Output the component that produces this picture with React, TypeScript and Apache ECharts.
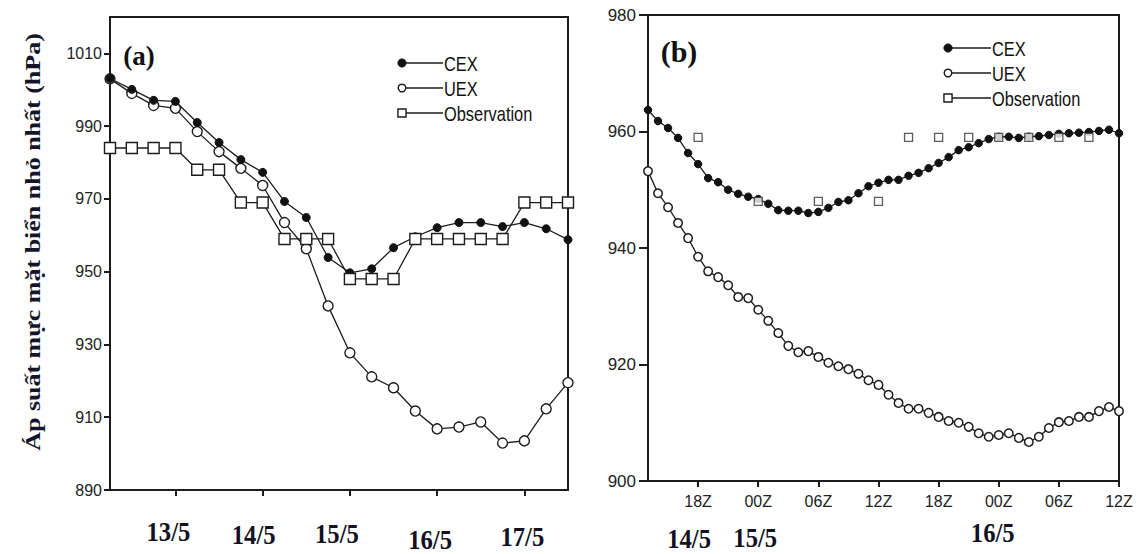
import React, { useEffect, useRef } from "react";
import * as echarts from "echarts";

// ---------- Panel (a): 6-hourly, index 0 = 12/5 06Z ----------
const cexA = [1003.1, 1000.1, 997.1, 996.8, 991.0, 985.5, 980.8, 977.3, 969.3, 964.9, 953.9, 949.7, 950.8, 956.6, 959.6, 962.1, 963.5, 963.5, 962.4, 963.5, 961.8, 958.8];
const uexA = [1003.0, 999.0, 995.7, 994.9, 988.5, 983.0, 978.4, 973.7, 963.5, 956.3, 940.6, 927.7, 921.1, 918.1, 911.7, 906.8, 907.3, 908.7, 902.9, 903.5, 912.3, 919.5];
const obsA = [984, 984, 984, 984, 978, 978, 969, 969, 959, 959, 959, 948, 948, 948, 959, 959, 959, 959, 959, 969, 969, 969];
const tickPosA = [3, 7, 11, 15, 19];
const dayLabelsA = ["13/5", "14/5", "15/5", "16/5", "17/5"];
const yTicksA = [890, 910, 930, 950, 970, 990, 1010];

// ---------- Panel (b): hourly, hours since 14/5 00Z ----------
const startHourB = 13;
const cexB = [963.7, 961.8, 960.6, 958.9, 956.3, 954.4, 952.0, 951.3, 950.0, 949.3, 948.8, 948.4, 947.6, 946.5, 946.4, 946.4, 946.0, 946.2, 946.9, 947.9, 948.2, 949.4, 950.6, 951.2, 951.7, 951.7, 952.4, 952.9, 953.7, 954.6, 955.6, 956.8, 957.3, 958.0, 958.7, 959.1, 959.1, 958.9, 959.1, 959.2, 959.4, 959.6, 959.7, 959.8, 959.9, 960.1, 960.3, 959.7];
const uexB = [953.2, 949.4, 947.0, 944.3, 941.7, 938.5, 936.0, 935.0, 933.6, 931.6, 931.4, 929.4, 927.5, 925.4, 923.2, 922.1, 922.3, 921.3, 920.3, 919.7, 919.2, 918.4, 917.3, 916.5, 914.8, 913.4, 912.4, 912.4, 911.7, 911.0, 910.3, 910.0, 909.3, 908.2, 907.6, 907.9, 908.2, 907.4, 906.7, 907.6, 909.1, 910.1, 910.3, 911.0, 911.0, 912.0, 912.7, 912.0];
const obsHoursB = [18, 24, 30, 36, 39, 42, 45, 48, 51, 54, 57];
const obsB = [959, 948, 948, 948, 959, 959, 959, 959, 959, 959, 959];
const tickPosB = [18, 24, 30, 36, 42, 48, 54, 60];
const tickLabelsB = ["18Z", "00Z", "06Z", "12Z", "18Z", "00Z", "06Z", "12Z"];
const dayPosB = [18, 24, 48];
const dayLabelsB = ["14/5", "15/5", "16/5"];

const seriesNames = ["CEX", "UEX", "Observation"];
const yTitle = "Áp suất mực mặt biển nhỏ nhất (hPa)";

const INK = "#1c1c1c";
const SANS = '"Liberation Sans", Arial, sans-serif';
const SERIF = '"Liberation Serif", "Times New Roman", serif';

function axisCommon() {
  return {
    axisLine: { show: true, onZero: false, lineStyle: { color: INK, width: 2 } },
    splitLine: { show: false },
  };
}

export default function App() {
  const ref = useRef<HTMLDivElement>(null);

  useEffect(() => {
    if (!ref.current) return;
    const chart = echarts.init(ref.current, undefined, { renderer: "svg" });

    const lineW = 1.3;
    const option: any = {
      animation: false,
      backgroundColor: "#fff",
      grid: [
        { left: 110, top: 17, width: 458, height: 473, show: true, borderColor: INK, borderWidth: 2, backgroundColor: "transparent" },
        { left: 648, top: 15, width: 471, height: 466, show: true, borderColor: INK, borderWidth: 2, backgroundColor: "transparent" },
      ],
      xAxis: [
        {
          gridIndex: 0, type: "value", min: 0, max: cexA.length - 1,
          ...axisCommon(),
          axisTick: { show: true, customValues: tickPosA, length: 6, lineStyle: { color: INK, width: 2 } },
          axisLabel: { show: false },
        },
        {
          gridIndex: 1, type: "value", min: startHourB, max: startHourB + cexB.length - 1,
          ...axisCommon(),
          axisTick: { show: true, customValues: tickPosB, length: 6, lineStyle: { color: INK, width: 2 } },
          axisLabel: {
            show: true, customValues: tickPosB, margin: 12,
            formatter: (v: number) => tickLabelsB[tickPosB.indexOf(v)] ?? "",
            color: "#222", fontSize: 16, fontFamily: SANS,
          },
        },
      ],
      yAxis: [
        {
          gridIndex: 0, type: "value", min: 890, max: 1020,
          ...axisCommon(),
          axisTick: { show: true, customValues: yTicksA, length: 6, lineStyle: { color: INK, width: 2 } },
          axisLabel: { show: true, customValues: yTicksA, margin: 8, color: "#222", fontSize: 16, fontFamily: SANS, formatter: (v: number) => String(v) },
        },
        {
          gridIndex: 1, type: "value", min: 900, max: 980, interval: 20,
          ...axisCommon(),
          axisTick: { show: true, length: 9, lineStyle: { color: INK, width: 2 } },
          axisLabel: { show: true, margin: 12, color: "#222", fontSize: 17, fontFamily: SANS, formatter: (v: number) => String(v) },
        },
      ],
      series: [
        {
          name: "UEX-a", type: "line", xAxisIndex: 0, yAxisIndex: 0,
          data: uexA.map((v, i) => [i, v]),
          symbol: "circle", symbolSize: 10,
          itemStyle: { color: "#fff", borderColor: INK, borderWidth: 1.4 },
          lineStyle: { color: INK, width: lineW }, z: 2,
        },
        {
          name: "CEX-a", type: "line", xAxisIndex: 0, yAxisIndex: 0,
          data: cexA.map((v, i) => [i, v]),
          symbol: "circle", symbolSize: 8,
          itemStyle: { color: "#111", borderColor: "#111", borderWidth: 1 },
          lineStyle: { color: INK, width: lineW }, z: 3,
        },
        {
          name: "Obs-a", type: "line", xAxisIndex: 0, yAxisIndex: 0,
          data: obsA.map((v, i) => [i, v]),
          symbol: "rect", symbolSize: 11,
          itemStyle: { color: "#fff", borderColor: INK, borderWidth: 1.4 },
          lineStyle: { color: INK, width: lineW }, z: 4,
        },
        {
          name: "UEX-b", type: "line", xAxisIndex: 1, yAxisIndex: 1,
          data: uexB.map((v, i) => [startHourB + i, v]),
          symbol: "circle", symbolSize: 8.5,
          itemStyle: { color: "#fff", borderColor: INK, borderWidth: 1.5 },
          lineStyle: { color: INK, width: lineW }, z: 2,
        },
        {
          name: "CEX-b", type: "line", xAxisIndex: 1, yAxisIndex: 1,
          data: cexB.map((v, i) => [startHourB + i, v]),
          symbol: "circle", symbolSize: 7.5,
          itemStyle: { color: "#111", borderColor: "#111", borderWidth: 1 },
          lineStyle: { color: INK, width: lineW }, z: 3,
        },
        {
          name: "Obs-b", type: "scatter", xAxisIndex: 1, yAxisIndex: 1,
          data: obsHoursB.map((h, i) => [h, obsB[i]]),
          symbol: "rect", symbolSize: 8,
          itemStyle: { color: "#fff", borderColor: "#333", borderWidth: 1.3 }, z: 4,
        },
      ],
    };
    chart.setOption(option);

    const px = (g: number, x: number, y: number) => chart.convertToPixel({ gridIndex: g } as any, [x, y]) as number[];

    const graphics: any[] = [];
    // Y title
    graphics.push({
      type: "text", x: 33, y: 242, rotation: Math.PI / 2, scaleY: 0.78,
      style: { text: yTitle, font: `bold 26px ${SERIF}`, fill: "#15152a", align: "center", verticalAlign: "middle" },
    });
    // Panel tags
    graphics.push({ type: "text", x: 139, y: 56, style: { text: "(a)", font: `bold 27px ${SERIF}`, fill: "#111", align: "center", verticalAlign: "middle" } });
    graphics.push({ type: "text", x: 679, y: 51, style: { text: "(b)", font: `bold 30px ${SERIF}`, fill: "#111", align: "center", verticalAlign: "middle" } });

    const dayStyle = (text: string) => ({
      text, font: `bold 28px ${SERIF}`, lineHeight: 22, fill: "#111122", align: "center", verticalAlign: "middle",
    });
    // Day labels panel (a)
    const offA = [[-7, 42], [-9, 45], [-13, 44], [-7, 50], [-2, 47]];
    tickPosA.forEach((p, i) => {
      const [x, y] = px(0, p, 890);
      graphics.push({ type: "text", x: x + offA[i][0], y: y + offA[i][1], scaleX: 0.88, style: dayStyle(dayLabelsA[i]) });
    });
    // Day labels panel (b)
    const offB = [[-9, 58], [-3, 57], [-6, 52]];
    dayPosB.forEach((p, i) => {
      const [x, y] = px(1, p, 900);
      graphics.push({ type: "text", x: x + offB[i][0], y: y + offB[i][1], scaleX: 0.88, style: dayStyle(dayLabelsB[i]) });
    });

    // Legends
    const legend = (x0: number, y0: number, dy: number, len: number, s: number) => {
      const items: any[] = [];
      seriesNames.forEach((name, i) => {
        const y = y0 + i * dy;
        items.push({ type: "line", shape: { x1: x0, y1: y, x2: x0 + len, y2: y }, style: { stroke: INK, lineWidth: 1.3 } });
        if (i === 0) items.push({ type: "circle", shape: { cx: x0, cy: y, r: s * 0.45 }, style: { fill: "#111", stroke: "#111" } });
        if (i === 1) items.push({ type: "circle", shape: { cx: x0, cy: y, r: s * 0.42 }, style: { fill: "#fff", stroke: INK, lineWidth: 1.4 } });
        if (i === 2) items.push({ type: "rect", shape: { x: x0 - s * 0.45, y: y - s * 0.45, width: s * 0.9, height: s * 0.9 }, style: { fill: "#fff", stroke: INK, lineWidth: 1.4 } });
        items.push({
          type: "text", x: x0 + len + 1, y: y + 1, scaleX: 0.82,
          style: { text: name, font: `20px ${SANS}`, fill: "#111", align: "left", verticalAlign: "middle" },
        });
      });
      return items;
    };
    graphics.push(...legend(402, 63, 25, 41, 9));
    graphics.push(...legend(948, 48, 25, 43, 9));

    chart.setOption({ graphic: graphics });

    return () => chart.dispose();
  }, []);

  return <div ref={ref} style={{ position: "fixed", left: 0, top: 0, width: 1144, height: 554, background: "#fff" }} />;
}
